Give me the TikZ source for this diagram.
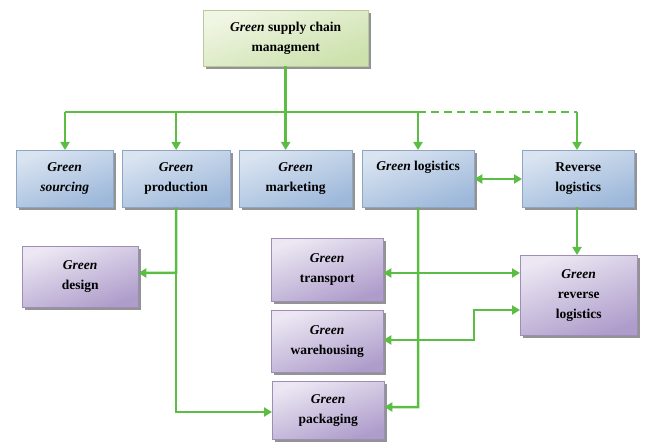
\documentclass[tikz,border=0pt]{standalone}
\usepackage{fontspec}
\setmainfont{Liberation Serif}
\usetikzlibrary{shadows,arrows.meta}
\definecolor{bluelt}{HTML}{DAE4F1}
\definecolor{bluedk}{HTML}{9DB8DA}
\definecolor{greenlt}{HTML}{F0F6E4}
\definecolor{greendk}{HTML}{CCE1AC}
\definecolor{purplt}{HTML}{ECE7F3}
\definecolor{purpdk}{HTML}{AE9DCB}
\definecolor{lnc}{HTML}{5CBD45}
\begin{document}
\begin{tikzpicture}[x=1pt,y=-1pt,
  box/.style={anchor=north west, inner sep=0pt, align=center,
    font=\fontsize{13.5}{20}\selectfont\bfseries,
    drop shadow={shadow xshift=3pt, shadow yshift=-3pt, fill=black!50, opacity=0.85}},
  bluebox/.style={box, top color=bluelt, bottom color=bluedk, shading angle=20, draw=bluedk!90!black, line width=0.3pt},
  greenbox/.style={box, top color=greenlt, bottom color=greendk, shading angle=20, draw=greendk!90!black, line width=0.3pt},
  purpbox/.style={box, top color=purplt, bottom color=purpdk, shading angle=20, draw=purpdk!90!black, line width=0.3pt},
  ln/.style={draw=lnc, line width=2.5pt},
  arr/.style={ln, -{Triangle[length=8pt,width=9pt]}},
  darr/.style={ln, {Triangle[length=8pt,width=9pt]}-{Triangle[length=8pt,width=9pt]}}
]
\useasboundingbox (0,0) rectangle (645,443);

% top
\node[greenbox, minimum width=165pt, minimum height=56pt] (top) at (203,10)
  {\textit{Green} supply chain\\managment};

% row 1
\node[bluebox, minimum width=97pt, minimum height=57pt] (src) at (16,150)
  {\textit{Green}\\\textit{sourcing}};
\node[bluebox, minimum width=108pt, minimum height=57pt] (prd) at (122,150)
  {\textit{Green}\\production};
\node[bluebox, minimum width=113pt, minimum height=57pt] (mkt) at (239,150)
  {\textit{Green}\\marketing};
\node[bluebox, minimum width=112pt, minimum height=57pt] (log) at (362,150)
  {\textit{Green} logistics\\\strut};
\node[bluebox, minimum width=112pt, minimum height=57pt] (rev) at (522,150)
  {Reverse\\logistics};

% row 2
\node[purpbox, minimum width=116pt, minimum height=61pt] (des) at (22,246)
  {\textit{Green}\\design};
\node[purpbox, minimum width=112pt, minimum height=63pt] (trn) at (271,238)
  {\textit{Green}\\transport};
\node[purpbox, minimum width=112pt, minimum height=62pt] (wh) at (271,310)
  {\textit{Green}\\warehousing};
\node[purpbox, minimum width=112pt, minimum height=58pt] (pkg) at (272,381)
  {\textit{Green}\\packaging};
\node[purpbox, minimum width=117pt, minimum height=80pt] (grl) at (520,255)
  {\textit{Green}\\reverse\\logistics};

% connectors from top
\coordinate (hL) at (65,112);
\coordinate (hM) at (418,112);
\coordinate (hR) at (577,112);
\draw[ln] (hL) -- (hM);
\draw[ln, dash pattern=on 8pt off 5pt] (hM) -- (hR);
\draw[arr] (top.south) -- (top.south |- mkt.north);
\draw[arr] (hL) -- (hL |- src.north);
\draw[arr] (prd.north |- hL) -- (prd.north);
\draw[arr] (hM) -- (hM |- log.north);
\draw[arr] (hR) -- (hR |- rev.north);

% row 1 links
\draw[darr] (log.east |- 0,179) -- (rev.west |- 0,179);

% production branch
\coordinate (pd) at (176,273);
\draw[arr] (prd.south) -- (pd) -- (des.east |- pd);
\draw[arr] (pd) -- (176,412) -- (pkg.west |- 0,412);

% logistics branch
\draw[arr] (log.south) -- (418,407) -- (pkg.east |- 0,407);

% reverse
\draw[arr] (rev.south -| hR) -- (hR |- grl.north);

% transport / warehousing <-> green reverse logistics
\draw[darr] (trn.east |- 0,273) -- (grl.west |- 0,273);
\draw[darr] (wh.east |- 0,340) -- (474,340) -- (474,310) -- (grl.west |- 0,310);
\end{tikzpicture}
\end{document}
